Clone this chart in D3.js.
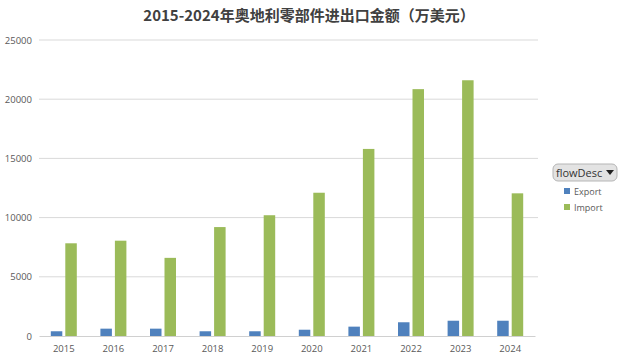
<!DOCTYPE html>
<html><head><meta charset="utf-8">
<script src="https://cdn.jsdelivr.net/npm/d3@7"></script>
<style>body{margin:0;background:#fff}svg{display:block}</style>
</head><body>
<svg id="c" width="621" height="360"></svg>
<script>
const years = ["2015","2016","2017","2018","2019","2020","2021","2022","2023","2024"];
const exportVals = [400,620,620,400,400,530,790,1160,1290,1290];
const importVals = [7830,8050,6600,9200,10200,12100,15800,20850,21600,12050];
const yTicks = [0,5000,10000,15000,20000,25000];
const seriesNames = ["Export","Import"];
const colors = ["#4F81BD","#9BBB59"];

const svg = d3.select("#c");
const font = "'Open Sans','Liberation Sans',sans-serif";
const x = d3.scaleBand().domain(years).range([39,535]);
const y = d3.scaleLinear().domain([0,25000]).range([336,40]);

svg.append("text").attr("x",309).attr("y",21).attr("text-anchor","middle")
  .attr("font-family","'Noto Sans CJK SC',sans-serif").attr("font-weight","bold")
  .attr("font-size",15).attr("fill","#404040")
  .text("2015-2024年奥地利零部件进出口金额（万美元）");

const g = svg.append("g");
g.selectAll("line.grid").data(yTicks.filter(d=>d>0)).join("line")
  .attr("x1",39).attr("x2",538).attr("y1",d=>y(d)).attr("y2",d=>y(d))
  .attr("stroke","#d9d9d9").attr("stroke-width",1);

const yAxis = d3.axisLeft(y).tickValues(yTicks).tickFormat(d3.format("d")).tickSize(0).tickPadding(7);
const ya = svg.append("g").attr("transform","translate(39,0)").call(yAxis);
ya.select(".domain").remove();
ya.selectAll("text").attr("font-family",font).attr("font-size",9.5).attr("fill","#595959");

const bw = 11.5, gap = 3;
const data = years.map((yr,i)=>({yr, v:[exportVals[i],importVals[i]]}));
seriesNames.forEach((s,si)=>{
  svg.append("g").selectAll("rect").data(data).join("rect")
    .attr("x",d=>x(d.yr)+x.bandwidth()/2 + (si===0 ? -gap/2-bw : gap/2))
    .attr("width",bw)
    .attr("y",d=>y(d.v[si])).attr("height",d=>y(0)-y(d.v[si]))
    .attr("fill",colors[si]);
});

const xAxis = d3.axisBottom(x).tickSize(0).tickPadding(9);
const xa = svg.append("g").attr("transform","translate(0,336)").call(xAxis);
xa.select(".domain").attr("stroke","#d0d0d0");
xa.selectAll("text").attr("font-family",font).attr("font-size",9.5).attr("fill","#595959");

// legend
const lg = svg.append("g");
lg.append("rect").attr("x",553).attr("y",164).attr("width",64).attr("height",17).attr("rx",5)
  .attr("fill","#e3e3e3").attr("stroke","#b5b5b5");
lg.append("text").attr("x",556).attr("y",177).attr("font-family",font).attr("font-size",11)
  .attr("fill","#333").text("flowDesc");
lg.append("path").attr("d","M606,170 L614,170 L610,175 Z").attr("fill","#222");
seriesNames.forEach((s,i)=>{
  lg.append("rect").attr("x",564).attr("y",188+i*16).attr("width",6).attr("height",6).attr("fill",colors[i]);
  lg.append("text").attr("x",574).attr("y",194.5+i*16).attr("font-family",font).attr("font-size",9)
    .attr("fill","#595959").text(s);
});
</script>
</body></html>
